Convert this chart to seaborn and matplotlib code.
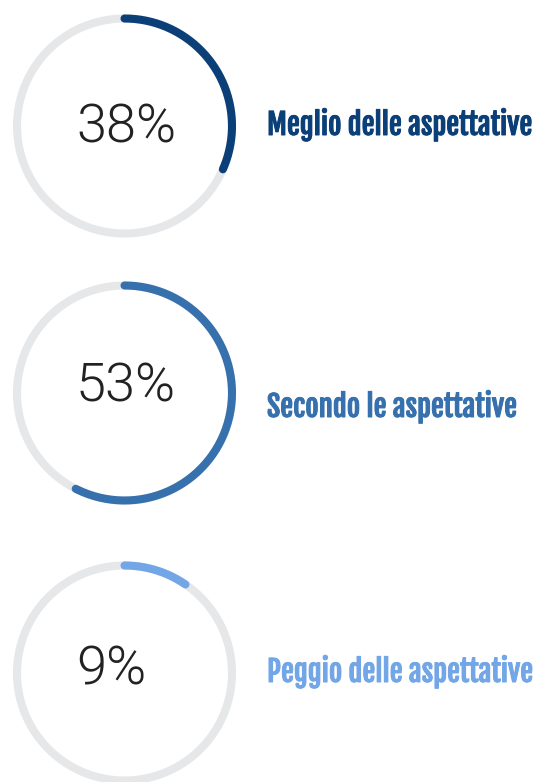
import numpy as np
import pandas as pd
import matplotlib
matplotlib.use("Agg")
import matplotlib.pyplot as plt
import matplotlib.patheffects as pe
import seaborn as sns


# data
labels = ["Meglio delle aspettative", "Secondo le aspettative", "Peggio delle aspettative"]
pct_text = [38, 53, 9]
arc_share = [0.316, 0.575, 0.096]  # length of the coloured arc as drawn
colors = ["#0b3f78", "#3671ad", "#72a6e6"]
track_color = "#e6e7e9"

sns.set_theme(style="white")

W, H = 536, 782
fig = plt.figure(figsize=(W / 100, H / 100), dpi=100)

ring_cx = 124.5
ring_cy = [126, 393, 673]
ring_r = 107.5
r_pos = 0.9
half = ring_r / r_pos
lw = 5.8

pct_y = [127.5, 387, 670]
label_base = [135, 417, 682]

for i, lab in enumerate(labels):
    cy = ring_cy[i]
    ax = fig.add_axes(
        [(ring_cx - half) / W, (H - cy - half) / H, 2 * half / W, 2 * half / H],
        projection="polar",
    )
    ax.set_theta_zero_location("N")
    ax.set_theta_direction(-1)

    track = pd.DataFrame({"theta": np.linspace(0, 2 * np.pi, 361), "r": r_pos})
    sns.lineplot(data=track, x="theta", y="r", ax=ax, color=track_color,
                 linewidth=lw, sort=False, estimator=None)

    arc = pd.DataFrame({"theta": np.linspace(0, arc_share[i] * 2 * np.pi, 200), "r": r_pos})
    sns.lineplot(data=arc, x="theta", y="r", ax=ax, color=colors[i],
                 linewidth=lw, sort=False, estimator=None, solid_capstyle="round")

    ax.set_ylim(0, 1)
    ax.set_axis_off()

    fig.text(76 / W, 1 - pct_y[i] / H, f"{pct_text[i]}%", ha="left", va="center",
             fontsize=39, color="#222222", family=["Roboto", "DejaVu Sans"],
             fontweight=300)

    fig.text(267 / W, 1 - label_base[i] / H, lab, ha="left", va="baseline",
             fontsize=20.8, color=colors[i],
             family=["Fjalla One", "DejaVu Sans"],
             path_effects=[pe.withStroke(linewidth=0.7, foreground=colors[i])])

fig.savefig("out.png", dpi=100, facecolor="white")
